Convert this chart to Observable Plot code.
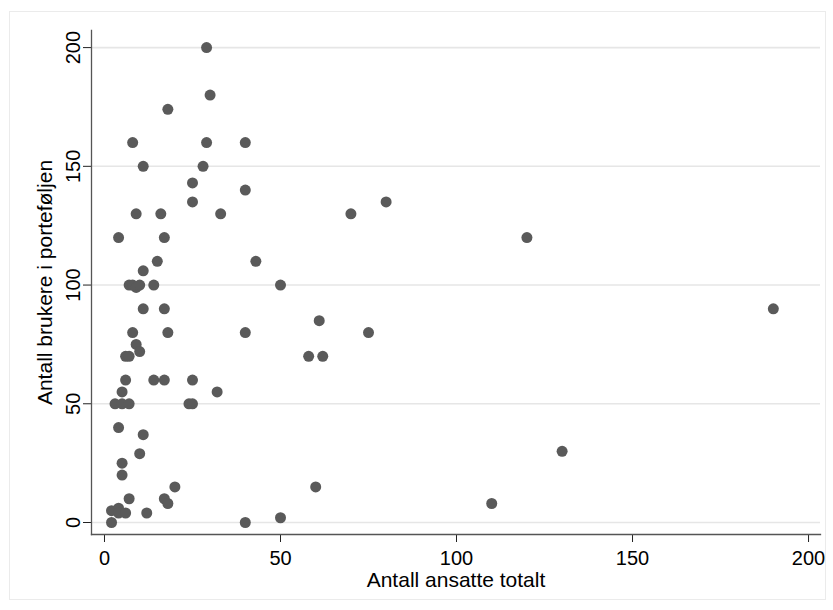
<!DOCTYPE html>
<html><head><meta charset="utf-8">
<script src="https://cdn.jsdelivr.net/npm/d3@7"></script>
<script src="https://cdn.jsdelivr.net/npm/@observablehq/plot@0.6"></script>
<style>
body{margin:0;background:#fff;}
#wrap{position:relative;width:833px;height:610px;overflow:hidden;}
#frame{position:absolute;left:9px;top:11px;width:817px;height:589px;border:1px solid #ebebeb;box-sizing:border-box;}
#chart{position:absolute;left:0;top:0;}
</style></head><body>
<div id="wrap"><div id="frame"></div><div id="chart"></div></div>
<script>
const ansatte = [29,30,18,8,29,40,11,28,25,40,25,80,9,16,33,70,4,17,120,15,43,11,7,8,9,10,14,50,11,17,190,61,8,18,40,75,9,10,6,7,58,62,6,14,17,25,5,32,3,5,7,24,25,4,11,130,10,5,5,20,60,7,17,18,110,2,4,4,6,12,50,2,40];
const brukere = [200,180,174,160,160,160,150,150,143,140,135,135,130,130,130,130,120,120,120,110,110,106,100,100,99,100,100,100,90,90,90,85,80,80,80,80,75,72,70,70,70,70,60,60,60,60,55,55,50,50,50,50,50,40,37,30,29,25,20,15,15,10,10,8,8,5,6,4,4,4,2,0,0];
const xTicks = [0,50,100,150,200];
const yTicks = [0,50,100,150,200];
const xTitle = "Antall ansatte totalt";
const yTitle = "Antall brukere i porteføljen";

const data = ansatte.map((a,i)=>({ansatte:a, brukere:brukere[i]}));
const font = "'Liberation Sans', Arial, sans-serif";
const chart = Plot.plot({
  width:833, height:610,
  marginLeft:91, marginRight:13, marginTop:30, marginBottom:76,
  style:{fontFamily:font, fontSize:"20px", background:"transparent", color:"#000"},
  x:{domain:[-3.69,203.4]},
  y:{domain:[-5.05,207.2]},
  marks:[
    Plot.gridY(yTicks,{stroke:"#e6e6e6", strokeOpacity:1, strokeWidth:1.6}),
    Plot.dot(data,{x:"ansatte", y:"brukere", r:5.5, fill:"#5a5a5a", stroke:"none"}),
    Plot.axisX(xTicks,{tickSize:8, tickPadding:8, label:null, stroke:"#222", fill:"#000", fontSize:20}),
    Plot.axisY(yTicks,{tickSize:8, tickPadding:4, tickRotate:-90, label:null, stroke:"#222", fill:"#000", fontSize:20}),
    Plot.frame({anchor:"left", stroke:"#555", strokeWidth:1.3}),
    Plot.frame({anchor:"bottom", stroke:"#555", strokeWidth:1.3}),
    Plot.text([xTitle],{frameAnchor:"bottom", dy:46, lineAnchor:"middle", textAnchor:"middle", fontSize:21, fill:"#000"}),
    Plot.text([yTitle],{frameAnchor:"left", dx:-46, rotate:-90, lineAnchor:"middle", textAnchor:"middle", fontSize:21, fill:"#000"})
  ]
});
document.getElementById("chart").appendChild(chart);
</script>
</body></html>
